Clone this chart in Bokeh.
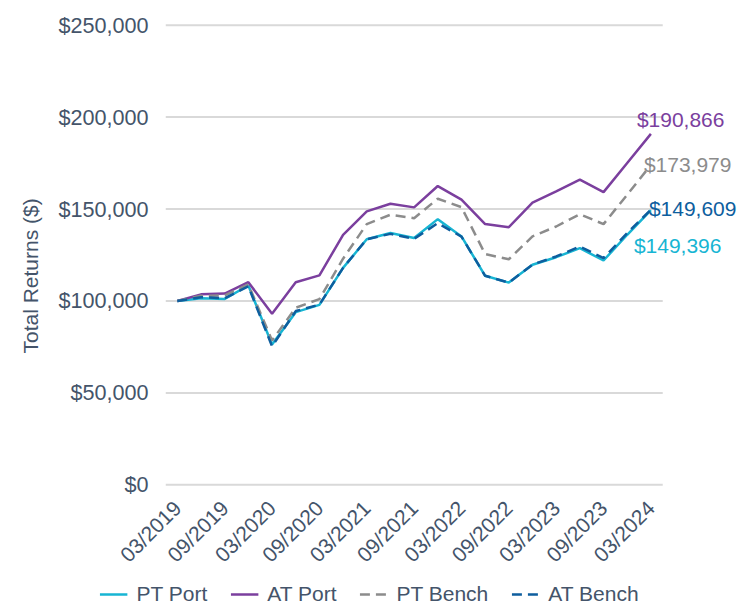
from math import pi
from bokeh.plotting import figure
from bokeh.layouts import column
from bokeh.models import (Range1d, FixedTicker, NumeralTickFormatter, Legend, LegendItem, Label, Title)
from bokeh.embed import file_html
from bokeh.resources import INLINE

quarters = ["03/2019", "06/2019", "09/2019", "12/2019", "03/2020", "06/2020", "09/2020",
            "12/2020", "03/2021", "06/2021", "09/2021", "12/2021", "03/2022", "06/2022",
            "09/2022", "12/2022", "03/2023", "06/2023", "09/2023", "12/2023", "03/2024"]

pt_port = [100000, 101500, 101100, 108400, 76300, 93900, 97900, 118000, 133600, 137000, 134200,
           144500, 135100, 113700, 110000, 119700, 123800, 128700, 122000, 136000, 149396]
at_port = [100000, 103600, 104000, 110200, 93000, 110200, 113900, 136000, 148700, 152900, 150900,
           162500, 155100, 141800, 140100, 153500, 159600, 166000, 159200, 175000, 190866]
pt_bench = [100000, 102800, 103000, 109000, 78500, 96300, 101000, 123000, 141800, 146900, 145000,
            155600, 151000, 125500, 122700, 135100, 140500, 147200, 141800, 157800, 173979]
at_bench = [100000, 102000, 101500, 108000, 75300, 94500, 98000, 118000, 133600, 136500, 133800,
            142300, 135000, 113700, 110000, 119800, 124200, 129600, 123300, 136900, 149609]

series_names = ["PT Port", "AT Port", "PT Bench", "AT Bench"]
y_ticks = [0, 50000, 100000, 150000, 200000, 250000]

TXT = "#44546A"
FONT = "Liberation Sans"
colors = {"PT Port": "#17B5D3", "AT Port": "#7B3F9E", "PT Bench": "#8C8C8C", "AT Bench": "#0E5E9E"}
dashes = {"PT Port": "solid", "AT Port": "solid", "PT Bench": "10 6", "AT Bench": "10 6"}
data = {"PT Port": pt_port, "AT Port": at_port, "PT Bench": pt_bench, "AT Bench": at_bench}

n = len(quarters)
x = list(range(n))
label_ticks = x[::2]

# frame extends to the right edge so the end-value labels are not clipped
p = figure(width=738, height=582, output_backend="svg", toolbar_location=None,
           x_range=Range1d(-0.5, n - 0.5 + 3.2),
           y_range=Range1d(y_ticks[0] - 2000, y_ticks[-1] + 2000),
           min_border_left=165, min_border_right=0, min_border_top=21, min_border_bottom=94)
p.outline_line_color = None
p.frame_align = False

# axes
p.xaxis.ticker = FixedTicker(ticks=label_ticks)
p.xaxis.major_label_overrides = {i: quarters[i] for i in label_ticks}
p.xaxis.major_label_orientation = pi / 4
p.yaxis.ticker = FixedTicker(ticks=y_ticks)
p.yaxis.formatter = NumeralTickFormatter(format="$0,0")
for ax in (p.xaxis, p.yaxis):
    ax.axis_line_color = None
    ax.major_tick_line_color = None
    ax.minor_tick_line_color = None
    ax.major_label_text_font = FONT
    ax.major_label_text_color = TXT
p.xaxis.major_label_text_font_size = "21px"
p.yaxis.major_label_text_font_size = "21.6px"
p.yaxis.major_label_standoff = 11
p.xaxis.major_label_standoff = 10
p.xgrid.grid_line_color = None
p.ygrid.grid_line_color = None

# horizontal gridlines spanning the category area only
p.segment(x0=[-0.5] * len(y_ticks), x1=[n - 0.5] * len(y_ticks), y0=y_ticks, y1=y_ticks,
          line_color="#D9D9D9", line_width=2)

ytitle = Title(text="Total Returns ($)", align="left", offset=135, standoff=26,
               vertical_align="middle",
               text_font=FONT, text_font_size="21px", text_font_style="normal", text_color=TXT)
p.add_layout(ytitle, "left")

for name in series_names:
    p.line(x, data[name], line_color=colors[name], line_width=2.5, line_dash=dashes[name])

# end-value labels
offsets = {"AT Port": (-14, 14), "PT Bench": (-7, 0), "AT Bench": (-2, 1), "PT Port": (-17, -35)}
for name in series_names:
    v = data[name][-1]
    dx, dy = offsets[name]
    p.add_layout(Label(x=x[-1], y=v, x_offset=dx, y_offset=dy, text=f"${v:,.0f}",
                       text_font=FONT, text_font_size="21px", text_color=colors[name],
                       text_align="left", text_baseline="middle"))

# legend strip below the chart
leg = figure(width=738, height=24, output_backend="svg", toolbar_location=None,
             x_axis_location=None, y_axis_location=None,
             min_border_left=0, min_border_right=0, min_border_top=0, min_border_bottom=0)
leg.outline_line_color = None
leg.frame_align = False
leg.xgrid.grid_line_color = None
leg.ygrid.grid_line_color = None
items = []
for name in series_names:
    r = leg.line(x=[float("nan")], y=[float("nan")], line_color=colors[name], line_width=2.5,
                 line_dash=dashes[name])
    items.append(LegendItem(label=name, renderers=[r]))
legend = Legend(items=items, orientation="horizontal", location="center",
                label_text_font=FONT, label_text_font_size="21px", label_text_color=TXT,
                glyph_width=28, glyph_height=20, label_standoff=9, spacing=23,
                border_line_color=None, background_fill_alpha=0, padding=0, margin=0)
leg.add_layout(legend)

open("out.html", "w").write(file_html(column(p, leg, spacing=0), INLINE))
